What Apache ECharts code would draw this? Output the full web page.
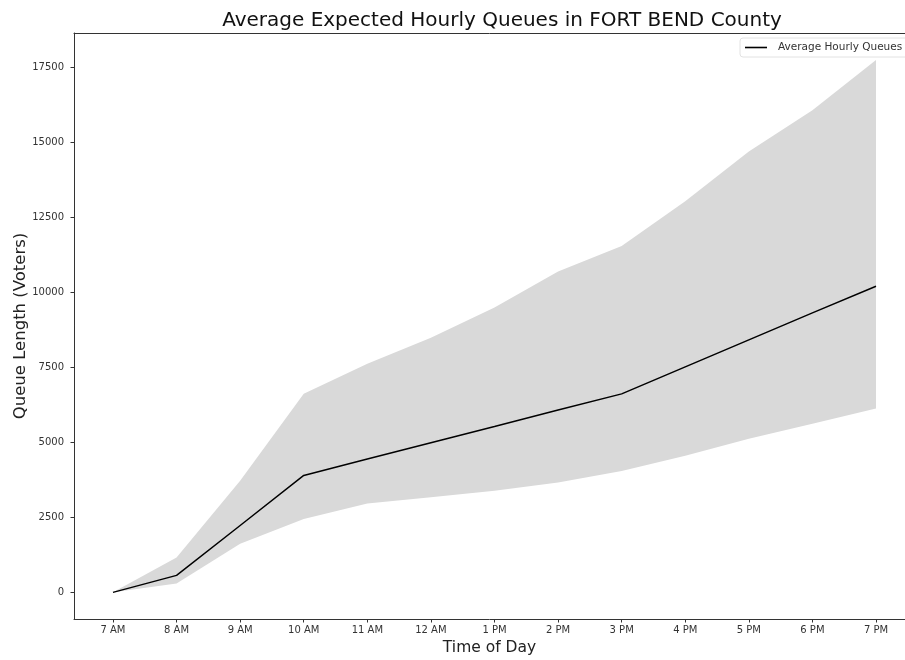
<!DOCTYPE html>
<html>
<head>
<meta charset="utf-8">
<title>Average Expected Hourly Queues in FORT BEND County</title>
<script src="https://cdn.jsdelivr.net/npm/echarts@6/dist/echarts.min.js"></script>
<style>
  html, body { margin: 0; padding: 0; background: #fff; }
  #chart { width: 905px; height: 660px; }
</style>
</head>
<body>
<div id="chart"></div>
<script>
// Hour labels along the x axis
const hours = ['7 AM', '8 AM', '9 AM', '10 AM', '11 AM', '12 AM', '1 PM',
               '2 PM', '3 PM', '4 PM', '5 PM', '6 PM', '7 PM'];

// Average expected queue length for each hour
const meanQueue = [0, 566, 2230, 3900, 4450, 4990, 5530, 6080, 6620, 7520, 8420, 9320, 10210];

// Lower and upper edges of the shaded range
const lowerBound = [0, 300, 1620, 2450, 2960, 3170, 3390, 3660, 4050, 4560, 5120, 5620, 6130];
const upperBound = [0, 1160, 3720, 6620, 7620, 8490, 9500, 10700, 11550, 13040, 14700, 16080, 17750];

// Y tick values
const yTicks = [0, 2500, 5000, 7500, 10000, 12500, 15000, 17500];

const FONT = 'DejaVu Sans';
const xIdx = hours.map((_, i) => i);

const chart = echarts.init(document.getElementById('chart'), null, { renderer: 'canvas' });

// Shaded range: one polygon running along the upper edge and back along the lower edge
function renderBand(params, api) {
  const pts = [];
  for (let i = 0; i < xIdx.length; i++) pts.push(api.coord([xIdx[i], upperBound[i]]));
  for (let i = xIdx.length - 1; i >= 0; i--) pts.push(api.coord([xIdx[i], lowerBound[i]]));
  return {
    type: 'polygon',
    shape: { points: pts },
    style: { fill: '#d9d9d9', stroke: null }
  };
}

chart.setOption({
  backgroundColor: '#ffffff',
  animation: false,
  title: {
    text: 'Average Expected Hourly Queues in FORT BEND County',
    left: 497,
    textAlign: 'center',
    top: 6,
    textStyle: { fontFamily: FONT, fontSize: 20, fontWeight: 'normal', color: '#111' }
  },
  legend: {
    data: ['Average Hourly Queues'],
    left: 740,
    top: 38,
    padding: [4, 14, 4, 5],
    icon: 'rect',
    itemWidth: 22,
    itemHeight: 1.6,
    itemGap: 8,
    backgroundColor: 'rgba(255,255,255,0.85)',
    borderColor: '#e2e2e2',
    borderWidth: 1,
    borderRadius: 3,
    textStyle: { fontFamily: FONT, fontSize: 10.5, color: '#333', padding: [0, 0, 0, 6] }
  },
  grid: {
    left: 74,
    top: 33,
    right: 0,
    bottom: 41,
    show: false,
    containLabel: false,
    outerBoundsMode: 'none'
  },
  xAxis: [
    {
      type: 'value',
      min: -0.613,
      max: 12.456,
      name: 'Time of Day',
      nameLocation: 'middle',
      nameGap: 21,
      nameMoveOverlap: false,
      nameTextStyle: { fontFamily: FONT, fontSize: 15.5, color: '#222' },
      axisLine: { show: true, onZero: false, lineStyle: { color: '#333', width: 1 } },
      axisTick: { show: true, customValues: xIdx, length: 3.5, lineStyle: { color: '#333' } },
      axisLabel: {
        customValues: xIdx,
        formatter: v => hours[Math.round(v)],
        fontFamily: FONT, fontSize: 10, color: '#333', margin: 6
      },
      splitLine: { show: false }
    },
    {
      // top frame line
      type: 'value',
      position: 'top',
      min: -0.613,
      max: 12.456,
      axisLine: { show: true, onZero: false, lineStyle: { color: '#333', width: 1 } },
      axisTick: { show: false },
      axisLabel: { show: false },
      splitLine: { show: false }
    }
  ],
  yAxis: {
    type: 'value',
    min: -888,
    max: 18654,
    name: 'Queue Length (Voters)',
    nameLocation: 'middle',
    nameGap: 45,
    nameMoveOverlap: false,
    nameTextStyle: { fontFamily: FONT, fontSize: 16.5, color: '#222' },
    axisLine: { show: true, onZero: false, lineStyle: { color: '#333', width: 1 } },
    axisTick: { show: true, customValues: yTicks, length: 3.5, lineStyle: { color: '#333' } },
    axisLabel: {
      customValues: yTicks,
      formatter: v => String(v),
      fontFamily: FONT, fontSize: 10, color: '#333', margin: 10
    },
    splitLine: { show: false }
  },
  series: [
    {
      name: 'range',
      type: 'custom',
      renderItem: renderBand,
      data: [[0, 0]],
      silent: true,
      z: 1
    },
    {
      name: 'Average Hourly Queues',
      type: 'line',
      data: xIdx.map(i => [i, meanQueue[i]]),
      symbol: 'none',
      lineStyle: { color: '#000', width: 1.5 },
      itemStyle: { color: '#000' },
      z: 3
    }
  ]
});
</script>
</body>
</html>
